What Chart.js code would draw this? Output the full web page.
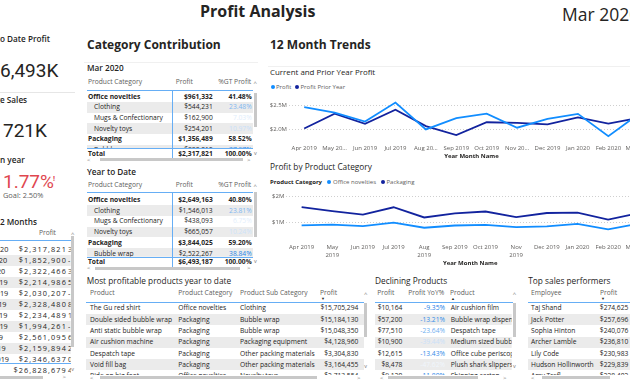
<!DOCTYPE html>
<html><head><meta charset="utf-8">
<script src="https://cdn.jsdelivr.net/npm/chart.js"></script>
<style>
html,body{margin:0;padding:0;width:630px;height:380px;overflow:hidden;background:#fff;}
body{position:relative;font-family:"Open Sans",sans-serif;color:#252423;}
</style></head><body>
<script>
// ---------- DATA ----------
const months = ["Apr 2019","May 2019","Jun 2019","Jul 2019","Aug 2019","Sep 2019","Oct 2019","Nov 2019","Dec 2019","Jan 2020","Feb 2020","Mar 2020"];
const xTickLabels1 = ["Apr 2019","May 20…","Jun 2019","Jul 2019","Aug 20…","Sep 2019","Oct 2019","Nov 20…","Dec 2019","Jan 2020","Feb 2020","Mar 2020"];
const xTickLabels2 = ["Apr 2019",["May","2019"],"Jun 2019","Jul 2019",["Aug","2019"],"Sep 2019","Oct 2019",["Nov","2019"],"Dec 2019","Jan 2020","Feb 2020","Mar 2020"];
const profit = [2465443,2346637,2159894,2561095,1994261,2234489,2328480,2030207,2214986,2322466,1852900,2317821];
const profitPriorYear = [2014000,2326000,2111000,2410000,2063000,1875000,2146000,2132000,2100000,2250000,2118000,2240000];
const officeNovelties = [895000,925000,863000,995000,803000,888000,913000,827000,852000,950000,738000,961332];
const packaging = [1588000,1440000,1303000,1585000,1195000,1352000,1423000,1206000,1366000,1380000,1115000,1356489];
const yoyText = ["4.5%","0.9%","2.3%","6.3%","-3.3%","19.2%","8.5%","-4.8%","5.5%","3.2%","-12.5%","3.5%"];
const y1Ticks = [2000000,2500000];
const y2Ticks = [1000000,2000000];
const kpiYtdProfit = "$6,493K", kpiSales = "721K", kpiGrowth = "1.77%", kpiGoal = "Goal: 2.50%";
const last12Total = "$26,828,679", last12TotalYoy = "4.07%";
const mar2020Rows = [["Office novelties","$961,332","41.48%",1],["Clothing","$544,231","23.48%",0],["Mugs & Confectionary","$162,900","7.03%",0],["Novelty toys","$254,201","10.97%",0],["Packaging","$1,356,489","58.52%",1],["Bubble wrap","$880,012","37.97%",0]];
const mar2020Total = ["$2,317,821","100.00%"];
const ytdRows = [["Office novelties","$2,649,163","40.80%",1],["Clothing","$1,546,013","23.81%",0],["Mugs & Confectionary","$438,093","6.75%",0],["Novelty toys","$665,057","10.24%",0],["Packaging","$3,844,025","59.20%",1],["Bubble wrap","$2,522,267","38.84%",0],["Packaging equipment","$612,340","9.43%",0]];
const ytdTotal = ["$6,493,187","100.00%"];
const topProducts = [["The Gu red shirt","Office novelties","Clothing","$15,705,294"],["Double sided bubble wrap","Packaging","Bubble wrap","$15,184,130"],["Anti static bubble wrap","Packaging","Bubble wrap","$15,048,350"],["Air cushion machine","Packaging","Packaging equipment","$4,128,960"],["Despatch tape","Packaging","Other packing materials","$3,304,830"],["Void fill bag","Packaging","Other packing materials","$3,164,455"],["Ride on big foot","Office novelties","Novelty toys","$2,713,554"]];
const decliningProducts = [["$10,164","-9.35%","Air cushion film"],["$57,200","-13.21%","Bubble wrap dispenser"],["$77,510","-23.64%","Despatch tape"],["$10,900","-39.44%","Medium sized bubble wrap"],["$12,615","-13.43%","Office cube periscope"],["$8,478","-47.62%","Plush shark slippers"],["$9,120","-11.80%","Shipping carton"]];
const salesPerformers = [["Taj Shand","$274,625"],["Jack Potter","$257,696"],["Sophia Hinton","$240,076"],["Archer Lamble","$236,810"],["Lily Code","$230,983"],["Hudson Hollinworth","$229,839"],["Amy Trefl","$228,402"]];

// ---------- HELPERS ----------
const root = document.body;
const BLUE = '#66AEF5', GRAYROW = '#ebebeb', HDR = '#605E5C', THUMB = '#c8c8c8';
function el(css, parent){ const d=document.createElement('div'); d.style.cssText='position:absolute;'+css; (parent||root).appendChild(d); return d; }
function rect(x,y,w,h,c,p){ return el(`left:${x}px;top:${y}px;width:${w}px;height:${h}px;background:${c};`,p); }
function clipBox(l,t,r,b){ return el(`left:0;top:0;width:630px;height:380px;clip-path:inset(${t}px ${630-r}px ${380-b}px ${l}px);`); }
function txt(s,x,y,o){ o=o||{}; const fs=o.fs||6.7, lh=o.lh||10;
  let css=`top:${y-lh/2}px;font-size:${fs}px;line-height:${lh}px;white-space:nowrap;color:${o.c||'#252423'};`;
  css += o.al==='r' ? `right:${630-x}px;` : `left:${x}px;`;
  if(o.w) css+=`font-weight:${o.w};`; if(o.f) css+=`font-family:${o.f};`; if(o.ls) css+=`letter-spacing:${o.ls}px;`;
  const d=el(css,o.p); d.textContent=s; return d; }
// text whose hidden prefix ends exactly at x (the rest starts at x)
function txtFrom(prefix,rest,x,y,o){
  const d=txt('',0,y,o); const sp=document.createElement('span'); sp.textContent=prefix; d.appendChild(sp);
  d.appendChild(document.createTextNode(rest));
  const w=sp.getBoundingClientRect().width; d.style.left=(x-w)+'px'; return d; }
function mix(a,b,t){ return 'rgb('+a.map((v,i)=>Math.round(v+(b[i]-v)*t)).join(',')+')'; }
function pctColor(s){ const v=parseFloat(s); const t=Math.max(0,Math.min(1,(v-5)/35)); return mix([236,244,253],[30,128,230],t); }
function declColor(s){ const v=parseFloat(s); const t=Math.max(0,Math.min(1,(v+46)/36)); return mix([240,246,253],[30,128,230],t); }
function arrowUp(x,y){ txt('^',x,y+1,{fs:6,lh:8,c:'#777'}); }
function arrowDn(x,y){ txt('v',x,y,{fs:5.5,lh:8,c:'#777'}); }

// ---------- HEADER ----------
txt('Profit Analysis',200,10.5,{fs:16,lh:20,w:700});
txt('Mar 2020',562,13.5,{fs:17.5,lh:22});

// ---------- LEFT KPI PANEL ----------
const kpiT={fs:8.2,lh:11,w:600};
txtFrom('Year t','o Date Profit',0,38,kpiT);
txtFrom(kpiYtdProfit.slice(0,1),kpiYtdProfit.slice(1),0,70.5,{fs:19,lh:24,f:'Roboto'});
rect(0,92,75,1,'#e6e6e6');
txtFrom('Averag','e Sales',0,99,kpiT);
txt(kpiSales,3,131,{fs:19,lh:24,f:'Roboto'});
txtFrom('Growth i','n year',0,159,kpiT);
txt(kpiGrowth,3,181.5,{fs:19,lh:24,f:'Roboto',c:'#E0474F'});
txt('!',53,178,{fs:7,lh:9,w:700,c:'#E0474F'});
txt(kpiGoal,3,195,{fs:7.4,lh:10,c:HDR});
txtFrom('Last 1','2 Months',0,221,kpiT);
txt('Profit',56,233,{al:'r',fs:6.7,c:HDR});
rect(0,240,71,1,BLUE);
(function(){
  const c=clipBox(0,241,70.7,363);
  const n=months.length;
  const probe=txtFrom('Mar 20','20',0,-50,{fs:7.3});
  const nameLeft=parseFloat(probe.style.left); probe.remove();
  for(let i=0;i<n;i++){
    const k=n-1-i, y=249+i*11;
    if(i%2===1) rect(0,y-5.5,71,11,GRAYROW,c);
    txt(months[k],nameLeft,y,{fs:7.3,p:c});
    txt('$'+profit[k].toLocaleString('en-US'),66.9,y,{al:'r',fs:7.3,ls:1.1,p:c});
    txt(yoyText[k],68,y,{fs:7.3,ls:0.6,p:c});
  }
  rect(0,363,71,1,BLUE);
  const c2=clipBox(0,364,70.7,375);
  txt('Total',nameLeft,370,{fs:7.3,p:c2});
  txt(last12Total,66.9,370,{al:'r',fs:7.3,ls:1.1,p:c2});
  txt(last12TotalYoy,68,370,{fs:7.3,ls:0.6,p:c2});
  rect(71,236,3,111,THUMB);
  arrowUp(71,233); arrowDn(71.2,369);
  rect(0,375.5,43,3,THUMB);
  txt('>',62.5,377,{fs:6,lh:8,c:'#777'});
})();

// ---------- CATEGORY CONTRIBUTION ----------
txt('Category Contribution',87,45,{fs:12,lh:16,w:700});
rect(84,62,174,1,'#f0f0f0');
function matrix(o){
  txt(o.title,87,o.titleY,{fs:8.2,lh:11,w:600});
  txt('Product Category',88,o.hdr,{c:HDR});
  txt('Profit',175.7,o.hdr,{c:HDR});
  txt('%GT Profit',218.3,o.hdr,{c:HDR});
  arrowUp(253.5,o.hdr);
  rect(87,o.line,166,1,BLUE);
  const c=clipBox(0,o.line+1,253,o.clipB);
  o.rows.forEach((r,i)=>{
    const y=o.r0+i*10.7, b=r[3];
    if(i%2===1) rect(87,y-5.35,166,10.7,GRAYROW,c);
    txt(r[0],b?88:94,y,{w:b?700:400,p:c});
    txt(r[1],212.7,y,{al:'r',w:b?700:400,p:c});
    txt(r[2],251.7,y,{al:'r',w:b?700:400,c:b?'#252423':pctColor(r[2]),p:c});
  });
  rect(87,o.clipB,166,1,BLUE);
  txt('Total',88,o.tot,{w:700});
  txt(o.total[0],212.7,o.tot,{al:'r',w:700});
  txt(o.total[1],251.7,o.tot,{al:'r',w:700});
  arrowDn(254,o.tot-1);
  rect(172,o.line,1,o.tot+5.5-o.line,BLUE);
  rect(253.5,o.vt[0],3,o.vt[1]-o.vt[0],THUMB);
  txt('<',87,o.hs,{fs:6,lh:8,c:'#777'});
  rect(o.ht[0],o.hs-1.5,o.ht[1]-o.ht[0],3,THUMB);
  txt('>',247,o.hs,{fs:6,lh:8,c:'#777'});
}
matrix({title:'Mar 2020',titleY:67.7,hdr:81.7,line:90,r0:96.65,clipB:148,tot:153.5,total:mar2020Total,rows:mar2020Rows,vt:[93,127],hs:159.5,ht:[100,243]});
matrix({title:'Year to Date',titleY:171.7,hdr:185,line:192.4,r0:200,clipB:256.7,tot:261.5,total:ytdTotal,rows:ytdRows,vt:[192,237],hs:268,ht:[95,240]});

// ---------- 12 MONTH TRENDS ----------
txt('12 Month Trends',270,45,{fs:12,lh:16,w:700});
rect(268,65.5,362,1,'#f0f0f0');
txt('Current and Prior Year Profit',270,72.7,{fs:7.9,lh:11});
function dot(x,y,c){ el(`left:${x}px;top:${y-2.2}px;width:4.4px;height:4.4px;border-radius:50%;background:${c};`); }
dot(270.8,87.3,'#118DFF'); txt('Profit',276,87.3,{fs:6,lh:8,c:HDR});
dot(295,87.3,'#12239E'); txt('Profit Prior Year',300.5,87.3,{fs:6,lh:8,c:HDR});
txt('Profit by Product Category',270,166.7,{fs:8.3,lh:11});
txt('Product Category',270,182.3,{fs:6,lh:8,w:700});
dot(327,182.3,'#118DFF'); txt('Office novelties',333,182.3,{fs:6,lh:8,c:HDR});
dot(381,182.3,'#12239E'); txt('Packaging',386.5,182.3,{fs:6,lh:8,c:HDR});

Chart.defaults.font.family = '"Open Sans", sans-serif';
Chart.defaults.color = HDR;
function makeCanvas(x,y,w,h){ const c=document.createElement('canvas'); c.width=w; c.height=h; c.style.cssText=`position:absolute;left:${x}px;top:${y}px;width:${w}px;height:${h}px;`; root.appendChild(c); return c; }
function lineChart(cv,datasets,tickLabels,yMin,yMax,yTicks,yFmt,yWidth,xHeight){
  return new Chart(cv,{
    type:'line',
    data:{labels:months,datasets:datasets},
    options:{
      responsive:false,animation:false,devicePixelRatio:1,
      layout:{padding:{top:4,left:0,right:0,bottom:0}},
      plugins:{legend:{display:false},tooltip:{enabled:false}},
      elements:{point:{radius:0},line:{borderWidth:1.8,tension:0}},
      scales:{
        x:{offset:true,grid:{display:false,drawTicks:false},border:{display:false},
          ticks:{autoSkip:false,maxRotation:0,minRotation:0,padding:3,color:HDR,font:{size:6,lineHeight:1.4},callback:(v,i)=>tickLabels[i]},
          title:{display:true,text:'Year Month Name',color:'#252423',font:{size:6,weight:'bold',lineHeight:1.4},padding:0},
          afterFit:s=>{s.height=xHeight;}},
        y:{min:yMin,max:yMax,border:{display:false,dash:[1,2]},grid:{color:'#cfcfcf',drawTicks:false,lineWidth:1},
          ticks:{padding:2,color:HDR,font:{size:6},callback:v=>yFmt(v)},
          afterBuildTicks:s=>{s.ticks=yTicks.map(v=>({value:v}));},
          afterFit:s=>{s.width=yWidth;}}
      }
    }
  });
}
lineChart(makeCanvas(265,88,390,72),[
  {label:'Profit',data:profit,borderColor:'#118DFF',backgroundColor:'#118DFF'},
  {label:'Profit Prior Year',data:profitPriorYear,borderColor:'#12239E',backgroundColor:'#12239E'}
],xTickLabels1,1750000,2750000,y1Ticks,v=>'$'+(v/1e6).toFixed(1)+'M',24,19);
lineChart(makeCanvas(265,184,390,83),[
  {label:'Office novelties',data:officeNovelties,borderColor:'#118DFF',backgroundColor:'#118DFF'},
  {label:'Packaging',data:packaging,borderColor:'#12239E',backgroundColor:'#12239E'}
],xTickLabels2,330000,2260000,y2Ticks,v=>'$'+(v/1e6)+'M',21.3,26.9);

// ---------- BOTTOM TABLES ----------
function bottomTable(o){
  txt(o.title,o.titleX,280.5,{fs:8.3,lh:11});
  o.headers.forEach(h=>txt(h[0],h[1],293.3,{c:HDR}));
  txt(o.sort[1],o.sort[0],298.6,{fs:4,lh:5,c:'#252423'});
  rect(o.x0,302.3,o.x1-o.x0,1,BLUE);
  const c=clipBox(o.x0,303.3,o.clipR,375);
  o.rows.forEach((r,i)=>{
    const y=308.3+i*11.3;
    if(i%2===1) rect(o.x0,y-5.65,o.x1-o.x0,11.3,GRAYROW,c);
    o.cols.forEach((col,j)=>{
      const opt={p:c}; if(col[1]==='r') opt.al='r'; if(col[2]) opt.c=col[2](r[j]);
      txt(r[j],col[0],y,opt);
    });
  });
  if(o.vs){ rect(o.vs,303,3,34,THUMB); arrowUp(o.vs,293); arrowDn(o.vs+0.3,365.5); }
  rect(o.x0,375,o.x1-o.x0,5,'#fff');
  txt('<',o.hsL,377.5,{fs:6,lh:8,c:'#777'});
  rect(o.ht[0],376,o.ht[1]-o.ht[0],3,THUMB);
  if(o.hsR) txt('>',o.hsR,377.5,{fs:6,lh:8,c:'#777'});
}
bottomTable({title:'Most profitable products year to date',titleX:86.7,x0:86,x1:364,clipR:364,
  headers:[['Product',90],['Product Category',178.3],['Product Sub Category',240],['Profit',320]],sort:[321,'▼'],
  rows:topProducts,cols:[[90,'l'],[178.3,'l'],[240,'l'],[358.3,'r']],vs:364,hsL:90,hsR:357,ht:[100,317]});
bottomTable({title:'Declining Products',titleX:375,x0:375,x1:513,clipR:511.7,
  headers:[['Profit',377.3],['Profit YoY%',408.3],['Product',450]],sort:[451,'▲'],
  rows:decliningProducts,cols:[[402.3,'r'],[445,'r',declColor],[450.7,'l']],vs:512.7,hsL:380,hsR:503,ht:[388,478]});
bottomTable({title:'Top sales performers',titleX:528.3,x0:528,x1:630,clipR:630,
  headers:[['Employee',531],['Profit',600]],sort:[601,'▼'],
  rows:salesPerformers,cols:[[531,'l'],[628.3,'r']],vs:0,hsL:531,hsR:0,ht:[541.7,610]});
</script>
</body></html>
